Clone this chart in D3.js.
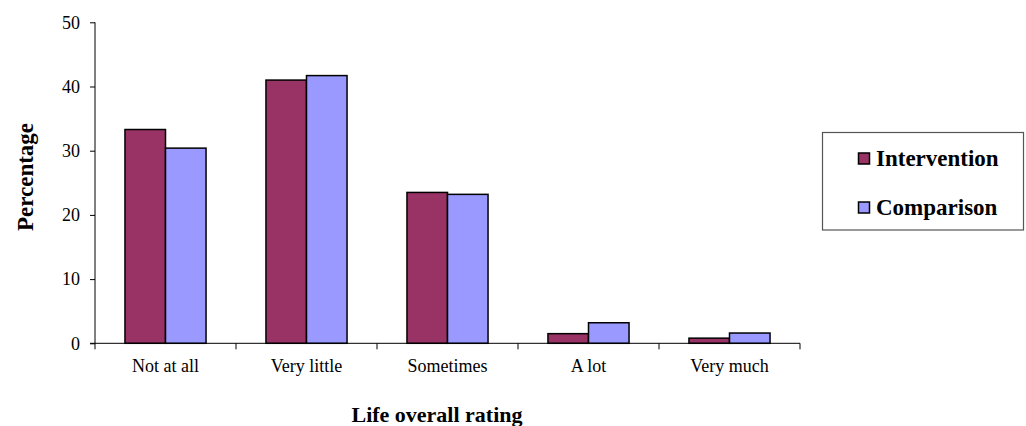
<!DOCTYPE html>
<html>
<head>
<meta charset="utf-8">
<script src="https://cdn.jsdelivr.net/npm/d3@7/dist/d3.min.js"></script>
<style>
  body { margin: 0; background: #fff; }
  svg text { font-family: "Liberation Serif", "Times New Roman", serif; }
</style>
</head>
<body>
<svg id="chart"></svg>
<script>
let categories = ['Not at all', 'Very little', 'Sometimes', 'A lot', 'Very much']
let seriesNames = ['Intervention', 'Comparison']
let intervention = [33.3, 41.0, 23.5, 1.5, 0.8]
let comparison = [30.4, 41.7, 23.2, 3.2, 1.6]
let yTicks = [0, 10, 20, 30, 40, 50]
let colors = ['#993366', '#9999ff']

let width = 1026,
    height = 426,
    plotLeft = 95,
    plotRight = 800,
    plotTop = 22.3,
    plotBottom = 343.3

let $svg = d3.select('#chart')
    .attr('width', width)
    .attr('height', height)

let x = d3.scaleBand()
    .domain(categories)
    .range([plotLeft, plotRight])
    .paddingInner(0)
    .paddingOuter(0)

let x1 = d3.scaleBand()
    .domain(seriesNames)
    .range([0, x.bandwidth() * 0.575])

let y = d3.scaleLinear()
    .domain([0, 50])
    .range([plotBottom, plotTop])

// bars
let groupOffset = (x.bandwidth() - x1.range()[1]) / 2
let data = categories.map((c, i) => ({cat: c, values: [intervention[i], comparison[i]]}))

let groups = $svg.append('g').selectAll('g')
    .data(data)
    .enter().append('g')
    .attr('transform', d => 'translate(' + (x(d.cat) + groupOffset) + ',0)')

groups.selectAll('rect')
    .data(d => d.values.map((v, i) => ({name: seriesNames[i], value: v, i: i})))
    .enter().append('rect')
    .attr('x', d => x1(d.name))
    .attr('y', d => y(d.value))
    .attr('width', x1.bandwidth())
    .attr('height', d => y(0) - y(d.value))
    .attr('fill', d => colors[d.i])
    .attr('stroke', '#000')
    .attr('stroke-width', 1.5)

// y axis
let yAxis = d3.axisLeft(y)
    .tickValues(yTicks)
    .tickSize(5)
    .tickPadding(10)
let $yAxis = $svg.append('g')
    .attr('transform', 'translate(' + plotLeft + ',0)')
    .call(yAxis)
$yAxis.select('.domain').attr('stroke', '#000').attr('d', 'M0,' + plotTop + 'V' + plotBottom)
$yAxis.selectAll('text')
    .style('font-size', '18px')
    .attr('fill', '#000')

// x axis
let boundaries = categories.map(c => x(c)).concat([plotRight])
let $xAxis = $svg.append('g')
$xAxis.append('line')
    .attr('x1', plotLeft - 5).attr('x2', plotRight)
    .attr('y1', plotBottom).attr('y2', plotBottom)
    .attr('stroke', '#000')
$xAxis.selectAll('line.tick')
    .data(boundaries)
    .enter().append('line')
    .attr('class', 'tick')
    .attr('x1', d => d).attr('x2', d => d)
    .attr('y1', plotBottom).attr('y2', plotBottom + 6)
    .attr('stroke', '#000')
$xAxis.selectAll('text')
    .data(categories)
    .enter().append('text')
    .attr('x', d => x(d) + x.bandwidth() / 2)
    .attr('y', 372)
    .attr('text-anchor', 'middle')
    .style('font-size', '18px')
    .text(d => d)

// axis titles
$svg.append('text')
    .attr('x', 437)
    .attr('y', 422)
    .attr('text-anchor', 'middle')
    .style('font-size', '22px')
    .style('font-weight', 'bold')
    .text('Life overall rating')

$svg.append('text')
    .attr('transform', 'translate(33,177) rotate(-90)')
    .attr('text-anchor', 'middle')
    .style('font-size', '23px')
    .style('font-weight', 'bold')
    .text('Percentage')

// legend
let $legend = $svg.append('g')
$legend.append('rect')
    .attr('x', 822.5).attr('y', 132.5)
    .attr('width', 201).attr('height', 97.5)
    .attr('fill', '#fff')
    .attr('stroke', '#555')
    .attr('stroke-width', 1.2)
let legendY = [159, 208]
seriesNames.forEach((name, i) => {
    $legend.append('rect')
        .attr('x', 858.5).attr('y', legendY[i] - 6)
        .attr('width', 11).attr('height', 11)
        .attr('fill', colors[i])
        .attr('stroke', '#000')
        .attr('stroke-width', 1.5)
    $legend.append('text')
        .attr('x', 876)
        .attr('y', legendY[i] + 7)
        .style('font-size', '23px')
        .style('font-weight', 'bold')
        .text(name)
})
</script>
</body>
</html>
